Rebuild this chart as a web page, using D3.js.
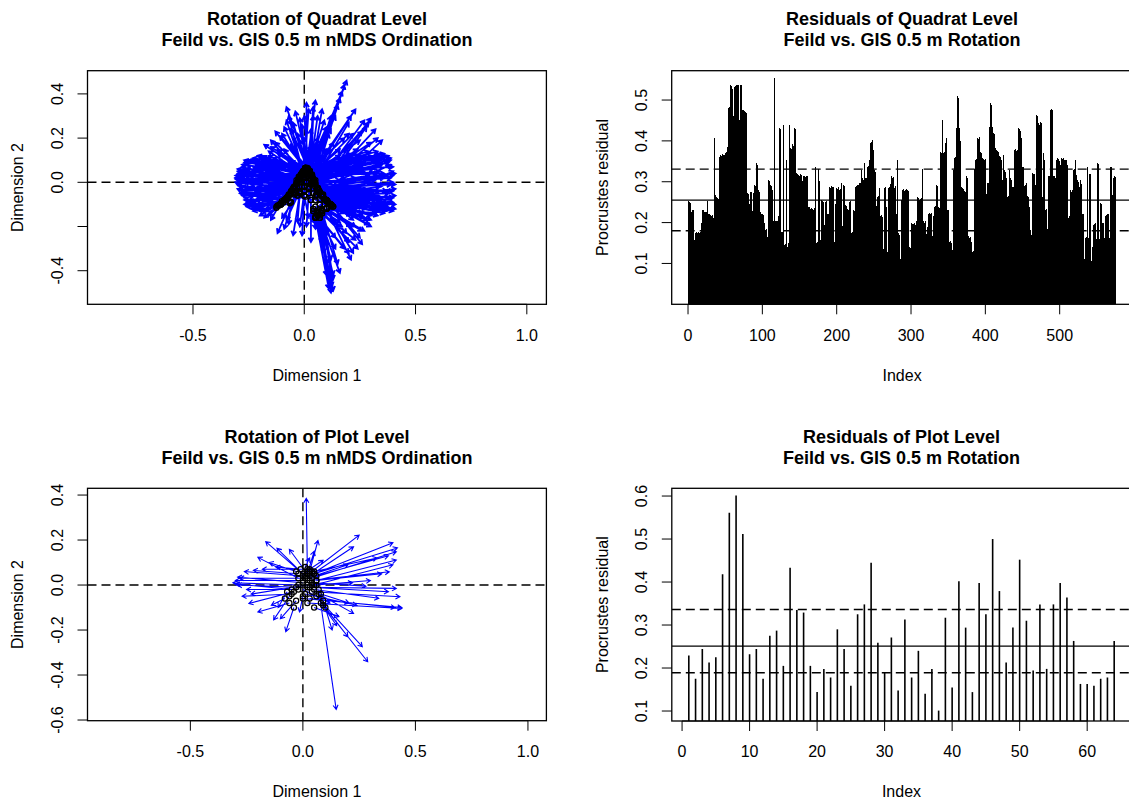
<!DOCTYPE html>
<html><head><meta charset="utf-8">
<script src="https://cdn.jsdelivr.net/npm/d3@7"></script>
<style>
html,body{margin:0;padding:0;background:#fff;}
svg{display:block;font-family:"Liberation Sans",Arial,sans-serif;}
</style></head>
<body>
<svg id="chart" width="1129" height="803"></svg>
<script>
// ---------------- DATA ----------------
const titlesTL = ["Rotation of Quadrat Level", "Feild vs. GIS 0.5 m nMDS Ordination"];
const titlesTR = ["Residuals of Quadrat Level", "Feild vs. GIS 0.5 m Rotation"];
const titlesBL = ["Rotation of Plot Level", "Feild vs. GIS 0.5 m nMDS Ordination"];
const titlesBR = ["Residuals of Plot Level", "Feild vs. GIS 0.5 m Rotation"];

const dimXTicks = [-0.5, 0.0, 0.5, 1.0];
const tlYTicks = [0.4, 0.2, 0.0, -0.2, -0.4];
const tlYLabelled = [0.4, 0.2, 0.0, -0.4];
const blYTicks = [0.4, 0.2, 0.0, -0.2, -0.4, -0.6];
const trXTicks = [0, 100, 200, 300, 400, 500];
const trYTicks = [0.1, 0.2, 0.3, 0.4, 0.5];
const brXTicks = [0, 10, 20, 30, 40, 50, 60];
const brYTicks = [0.1, 0.2, 0.3, 0.4, 0.5, 0.6];

// Procrustes residuals, quadrat level (index 1..575)
const quadratResiduals = [
0.253,0.25,0.248,0.227,0.225,0.23,0.232,0.228,0.157,0.174,0.176,0.172,0.175,0.178,0.174,0.172,0.176,0.2,0.23,0.228,0.232,0.226,0.225,0.222,0.226,
0.253,0.221,0.218,0.222,0.219,0.216,0.214,0.218,0.212,0.23,0.407,0.268,0.262,0.26,0.255,0.258,0.162,0.36,0.366,0.364,0.368,0.362,0.366,0.365,0.368,
0.37,0.372,0.386,0.39,0.48,0.482,0.537,0.535,0.53,0.528,0.46,0.533,0.53,0.534,0.537,0.535,0.538,0.536,0.451,0.46,0.537,0.538,0.476,0.475,0.474,
0.472,0.47,0.468,0.466,0.272,0.27,0.243,0.245,0.276,0.274,0.231,0.228,0.272,0.275,0.292,0.29,0.345,0.34,0.284,0.28,0.276,0.227,0.225,0.222,0.22,
0.218,0.203,0.2,0.182,0.185,0.162,0.165,0.304,0.302,0.296,0.293,0.29,0.28,0.278,0.203,0.205,0.554,0.203,0.205,0.2,0.204,0.215,0.431,0.428,0.18,
0.178,0.178,0.439,0.436,0.145,0.148,0.353,0.35,0.14,0.15,0.439,0.435,0.382,0.38,0.39,0.392,0.388,0.431,0.428,0.425,0.321,0.318,0.316,0.317,0.315,
0.318,0.316,0.305,0.303,0.313,0.311,0.314,0.312,0.31,0.313,0.313,0.239,0.237,0.235,0.234,0.236,0.233,0.231,0.232,0.235,0.149,0.335,0.15,0.152,0.33,
0.305,0.302,0.157,0.16,0.255,0.252,0.25,0.194,0.19,0.25,0.252,0.182,0.222,0.22,0.225,0.288,0.285,0.29,0.287,0.284,0.286,0.153,0.243,0.245,0.284,
0.282,0.286,0.283,0.28,0.282,0.296,0.19,0.192,0.292,0.29,0.288,0.243,0.24,0.231,0.233,0.23,0.25,0.252,0.248,0.174,0.176,0.23,0.232,0.228,0.288,
0.286,0.29,0.292,0.289,0.291,0.296,0.298,0.329,0.3,0.31,0.305,0.308,0.345,0.309,0.31,0.337,0.335,0.338,0.353,0.36,0.394,0.398,0.402,0.378,0.375,
0.329,0.325,0.239,0.24,0.263,0.265,0.284,0.282,0.215,0.218,0.214,0.133,0.135,0.284,0.286,0.235,0.238,0.125,0.128,0.284,0.286,0.292,0.295,0.313,0.31,
0.312,0.288,0.285,0.29,0.215,0.22,0.353,0.174,0.17,0.108,0.11,0.255,0.25,0.28,0.282,0.278,0.276,0.279,0.282,0.28,0.278,0.137,0.14,0.138,0.182,
0.198,0.196,0.195,0.197,0.2,0.194,0.198,0.203,0.263,0.26,0.255,0.255,0.258,0.26,0.255,0.33,0.203,0.2,0.205,0.17,0.172,0.19,0.192,0.222,0.224,
0.22,0.223,0.17,0.168,0.215,0.213,0.239,0.24,0.292,0.29,0.235,0.238,0.236,0.113,0.374,0.37,0.451,0.445,0.37,0.372,0.394,0.39,0.407,0.231,0.228,
0.23,0.153,0.155,0.15,0.129,0.132,0.329,0.33,0.357,0.36,0.431,0.435,0.509,0.505,0.431,0.398,0.4,0.288,0.285,0.28,0.282,0.278,0.275,0.272,0.313,
0.31,0.166,0.165,0.162,0.164,0.153,0.15,0.129,0.131,0.329,0.33,0.353,0.355,0.35,0.407,0.405,0.41,0.374,0.372,0.37,0.357,0.355,0.353,0.352,0.355,
0.268,0.27,0.296,0.298,0.431,0.435,0.492,0.488,0.435,0.423,0.42,0.418,0.382,0.38,0.378,0.375,0.376,0.372,0.362,0.36,0.356,0.353,0.305,0.308,0.366,
0.329,0.325,0.309,0.31,0.263,0.265,0.329,0.325,0.31,0.305,0.284,0.286,0.288,0.378,0.376,0.38,0.375,0.378,0.372,0.431,0.428,0.425,0.407,0.405,0.337,
0.335,0.288,0.29,0.292,0.296,0.268,0.265,0.262,0.239,0.235,0.182,0.17,0.172,0.321,0.318,0.32,0.292,0.29,0.464,0.46,0.37,0.443,0.44,0.447,0.445,
0.26,0.262,0.37,0.353,0.35,0.231,0.233,0.182,0.185,0.313,0.315,0.312,0.476,0.478,0.475,0.472,0.313,0.315,0.31,0.305,0.353,0.357,0.355,0.353,0.35,
0.341,0.34,0.357,0.355,0.357,0.354,0.35,0.353,0.352,0.341,0.34,0.211,0.215,0.28,0.278,0.276,0.279,0.285,0.329,0.332,0.353,0.316,0.312,0.305,0.3,
0.284,0.286,0.305,0.295,0.292,0.222,0.22,0.108,0.11,0.162,0.165,0.337,0.335,0.162,0.32,0.318,0.104,0.106,0.14,0.142,0.194,0.196,0.198,0.157,0.16,
0.345,0.343,0.157,0.16,0.247,0.245,0.162,0.198,0.2,0.162,0.165,0.215,0.218,0.222,0.22,0.198,0.162,0.165,0.337,0.335,0.268,0.27,0.31,0.313,0.312
];
const quadratQuartiles = [0.180, 0.255, 0.331];

// Procrustes residuals, plot level (index 1..64)
const plotResiduals = [
0.229,0.175,0.244,0.213,0.225,0.418,0.561,0.601,0.512,0.232,
0.244,0.175,0.275,0.287,0.205,0.433,0.335,0.329,0.205,0.144,
0.198,0.178,0.290,0.244,0.159,0.325,0.348,0.445,0.259,0.190,
0.271,0.148,0.313,0.178,0.240,0.140,0.198,0.101,0.317,0.155,
0.402,0.294,0.144,0.398,0.325,0.500,0.379,0.213,0.294,0.452,
0.310,0.194,0.348,0.198,0.348,0.398,0.364,0.263,0.163,0.163,
0.159,0.175,0.178,0.263
];
const plotQuartiles = [0.189, 0.251, 0.336];

// Quadrat-level rotation arrows: [rotated x, rotated y, target x, target y]
const quadratArrows = [
// left lobe
[-0.03,0.0,-0.30,0.02],[-0.02,0.02,-0.31,0.03],[-0.05,-0.03,-0.30,0.0],[-0.01,0.035,-0.29,0.05],
[-0.07,-0.06,-0.29,-0.02],[-0.035,0.01,-0.28,0.07],[0.0,0.055,-0.27,0.09],[-0.09,-0.08,-0.28,-0.05],
[-0.055,-0.035,-0.27,-0.07],[-0.11,-0.1,-0.25,-0.1],[-0.075,-0.065,-0.26,-0.09],[-0.04,-0.05,-0.29,-0.03],
[0.01,0.065,-0.25,0.1],[-0.025,0.025,-0.26,0.08],[-0.125,-0.115,-0.22,-0.12],[-0.095,-0.09,-0.24,-0.11],
[-0.065,-0.095,-0.2,-0.13],[-0.03,-0.005,-0.3,0.04],[-0.015,0.03,-0.29,0.01],[0.0,0.02,-0.28,0.0],
[-0.05,-0.025,-0.28,-0.04],[-0.02,-0.045,-0.27,-0.06],[0.0,-0.06,-0.25,-0.08],[-0.045,-0.055,-0.23,-0.1],
[-0.105,-0.095,-0.21,-0.11],[0.005,0.05,-0.22,0.1],[0.015,0.06,-0.2,0.11],[-0.01,0.04,-0.23,0.09],
[0.02,0.045,-0.18,0.11],[-0.02,0.015,-0.2,0.06],[-0.035,-0.005,-0.22,0.03],[-0.06,-0.04,-0.21,-0.02],
[-0.08,-0.07,-0.2,-0.06],[-0.1,-0.085,-0.19,-0.09],[0.0,-0.02,-0.24,-0.01],[0.01,0.0,-0.26,0.02],
[0.02,0.055,-0.26,0.06],[-0.005,0.025,-0.24,0.05],[-0.045,-0.045,-0.26,-0.05],[-0.065,-0.085,-0.24,-0.12],
[0.0,0.045,-0.16,0.12],[-0.01,0.03,-0.15,0.08],[0.02,-0.025,-0.18,-0.04],[0.01,0.005,-0.17,0.0],
[-0.025,-0.05,-0.16,-0.08],[-0.12,-0.105,-0.18,-0.13],[0.005,-0.065,-0.14,-0.1],[-0.03,0.005,-0.13,0.04],
[-0.07,-0.055,-0.15,-0.11],[0.03,0.03,-0.12,0.1],[-0.04,-0.02,-0.31,0.015],[-0.06,-0.05,-0.3,-0.01],
[-0.02,0.0,-0.285,0.035],[-0.085,-0.075,-0.27,-0.04],[-0.01,0.045,-0.28,0.08],[0.0,0.0,-0.3,0.05],
[-0.115,-0.105,-0.3,-0.03],[-0.095,-0.09,-0.31,0.0],[-0.085,-0.08,-0.29,0.06],[-0.065,-0.055,-0.3,0.03],
[-0.045,-0.02,-0.31,0.02],[-0.025,0.015,-0.3,0.06],[-0.015,0.035,-0.27,0.1],[-0.005,0.05,-0.24,0.1],
[-0.035,-0.005,-0.27,0.0],[-0.055,-0.04,-0.28,-0.06],[-0.075,-0.07,-0.27,-0.08],[-0.105,-0.1,-0.26,-0.11],
[-0.125,-0.11,-0.23,-0.13],[-0.085,-0.08,-0.22,-0.12],[-0.065,-0.055,-0.25,-0.06],[-0.045,-0.02,-0.26,-0.03],
[-0.025,0.015,-0.27,0.04],[-0.01,-0.02,-0.25,0.01],[-0.02,-0.04,-0.23,-0.05],[-0.03,-0.06,-0.22,-0.08],
[0.0,-0.04,-0.21,-0.04],[0.0,0.02,-0.23,0.07],[-0.015,0.035,-0.21,0.08],[0.005,0.065,-0.19,0.09],
[-0.055,-0.04,-0.24,-0.09],[-0.095,-0.09,-0.2,-0.1],[-0.105,-0.1,-0.17,-0.12],[-0.035,-0.005,-0.19,0.02],
[-0.045,-0.02,-0.18,-0.05],[-0.075,-0.07,-0.17,-0.08],[0.01,0.0,-0.2,0.04],[0.0,0.02,-0.17,0.05],
[-0.005,0.05,-0.14,0.11],[-0.025,0.015,-0.14,0.06],[-0.01,-0.02,-0.14,-0.03],[-0.02,-0.04,-0.12,-0.07],
[0.005,0.065,-0.21,0.12],[0.015,0.06,-0.23,0.11],[-0.115,-0.105,-0.27,-0.1],[-0.065,-0.055,-0.29,-0.05],
// upper-left rays
[0.01,0.06,-0.15,0.16],[0.0,0.05,-0.18,0.17],[-0.01,0.03,-0.15,0.19],[0.005,0.045,-0.13,0.18],
[0.015,0.065,-0.11,0.21],[0.02,0.05,-0.08,0.34],[0.0,0.02,-0.07,0.3],[0.01,0.06,-0.05,0.27],
[0.025,0.045,-0.04,0.32],[0.03,0.03,-0.06,0.24],[0.0,0.055,-0.09,0.25],[-0.015,0.03,-0.12,0.15],
[-0.02,0.02,-0.19,0.12],[0.01,0.06,-0.02,0.29],[0.005,0.05,-0.1,0.22],[0.02,0.05,-0.03,0.22],
[0.0,0.04,-0.08,0.28],[0.01,0.055,-0.13,0.23],[-0.005,0.035,-0.16,0.14],
[0.005,0.065,-0.12,0.13],[-0.005,0.05,-0.06,0.17],[-0.015,0.035,-0.09,0.15],[0.005,0.065,-0.02,0.19],
// top rays
[0.01,0.06,0.01,0.36],[0.02,0.05,0.0,0.3],[0.0,0.05,0.02,0.33],[0.03,0.03,0.04,0.3],
[0.01,0.065,0.05,0.37],[0.025,0.05,0.06,0.3],[0.03,0.035,0.08,0.33],[0.02,0.055,0.09,0.28],
[0.015,0.06,0.1,0.25],[0.035,0.03,0.12,0.3],[0.04,0.0,0.11,0.22],[0.02,0.045,0.03,0.24],
[0.0,0.02,0.0,0.2],[0.01,0.06,0.06,0.2],[0.02,0.04,0.04,0.34],[0.005,0.055,-0.01,0.26],
[0.015,0.06,0.03,0.17],[0.025,0.05,0.09,0.2],[0.015,0.06,0.12,0.24],
// upper-right rays
[0.03,0.03,0.19,0.46],[0.04,0.0,0.18,0.44],[0.02,0.05,0.17,0.41],[0.035,0.025,0.16,0.38],
[0.045,0.005,0.15,0.35],[0.02,0.055,0.14,0.3],[0.03,0.035,0.23,0.33],[0.04,0.0,0.2,0.27],
[0.06,-0.03,0.3,0.29],[0.045,-0.005,0.29,0.27],[0.055,-0.055,0.28,0.25],[0.065,-0.035,0.32,0.24],
[0.04,0.01,0.26,0.23],[0.03,0.03,0.22,0.22],[0.08,-0.06,0.35,0.19],[0.06,-0.025,0.33,0.2],
[0.04,0.005,0.3,0.18],[0.03,0.035,0.25,0.19],[0.02,0.05,0.18,0.2],[0.035,0.03,0.2,0.16],
[0.04,0.0,0.13,0.18],[0.02,0.05,0.1,0.15],[0.05,-0.02,0.27,0.28],[0.03,0.02,0.21,0.3],
[0.03,0.035,0.16,0.15],[0.04,0.015,0.24,0.15],[0.025,0.05,0.2,0.22],
// right lobe
[0.04,0.0,0.38,0.12],[0.06,-0.03,0.37,0.1],[0.08,-0.06,0.39,0.08],[0.1,-0.08,0.4,0.05],
[0.045,-0.005,0.39,0.02],[0.065,-0.035,0.4,0.0],[0.085,-0.065,0.41,-0.03],[0.105,-0.085,0.41,-0.06],
[0.12,-0.1,0.4,-0.09],[0.125,-0.105,0.39,-0.12],[0.1,-0.08,0.37,-0.13],[0.08,-0.06,0.36,-0.11],
[0.06,-0.03,0.38,-0.07],[0.04,0.0,0.37,-0.04],[0.03,0.03,0.36,0.04],[0.02,0.05,0.35,0.11],
[0.03,0.03,0.34,0.13],[0.04,0.0,0.33,0.07],[0.05,-0.06,0.34,-0.02],[0.07,-0.1,0.35,-0.09],
[0.12,-0.1,0.34,-0.13],[0.1,-0.12,0.32,-0.14],[0.085,-0.055,0.32,-0.1],[0.06,-0.03,0.31,-0.05],
[0.04,0.0,0.3,0.0],[0.03,0.03,0.31,0.06],[0.02,0.05,0.3,0.12],[0.035,0.035,0.28,0.1],
[0.045,0.005,0.27,0.05],[0.06,-0.025,0.28,-0.03],[0.08,-0.065,0.29,-0.08],[0.1,-0.08,0.28,-0.12],
[0.115,-0.1,0.26,-0.14],[0.1,-0.12,0.24,-0.15],[0.075,-0.06,0.25,-0.1],[0.055,-0.03,0.24,-0.05],
[0.04,-0.01,0.23,0.02],[0.03,0.025,0.24,0.08],[0.02,0.055,0.25,0.12],[0.015,0.05,0.21,0.13],
[0.03,0.035,0.2,0.09],[0.04,0.005,0.19,0.04],[0.06,-0.035,0.2,-0.02],[0.08,-0.055,0.21,-0.07],
[0.1,-0.085,0.2,-0.12],[0.12,-0.11,0.18,-0.14],[0.05,-0.065,0.17,-0.09],[0.04,0.0,0.16,0.01],
[0.03,0.03,0.15,0.07],[0.02,0.05,0.16,0.12],[0.04,0.005,0.35,0.08],[0.06,-0.03,0.36,-0.01],
[0.08,-0.06,0.38,-0.05],[0.1,-0.08,0.38,-0.1],[0.045,0.0,0.4,0.03],[0.03,0.03,0.39,0.1],
[0.06,-0.03,0.33,0.03],[0.08,-0.06,0.33,-0.06],[0.1,-0.08,0.35,-0.12],[0.04,0.0,0.26,0.09],
[0.05,0.01,0.41,-0.01],[0.07,-0.045,0.4,-0.07],[0.025,0.04,0.37,0.12],[0.09,-0.075,0.41,-0.1],
[0.03,0.035,0.39,0.11],[0.04,0.015,0.38,0.09],[0.05,-0.005,0.41,0.04],[0.06,-0.025,0.39,-0.01],
[0.07,-0.045,0.4,-0.04],[0.08,-0.06,0.39,-0.08],[0.09,-0.075,0.38,-0.12],[0.1,-0.085,0.36,-0.14],
[0.11,-0.095,0.33,-0.15],[0.12,-0.105,0.3,-0.15],[0.13,-0.11,0.27,-0.16],[0.025,0.05,0.36,0.13],
[0.015,0.06,0.33,0.14],[0.005,0.065,0.29,0.14],[0.03,0.035,0.32,0.11],[0.04,0.015,0.34,0.05],
[0.05,-0.005,0.36,0.02],[0.06,-0.025,0.34,-0.04],[0.07,-0.045,0.37,-0.09],[0.08,-0.06,0.31,-0.12],
[0.09,-0.075,0.3,-0.08],[0.1,-0.085,0.27,-0.1],[0.11,-0.095,0.23,-0.12],[0.12,-0.105,0.21,-0.15],
[0.03,-0.01,0.29,0.03],[0.02,-0.03,0.27,-0.01],[0.04,-0.05,0.26,-0.06],[0.05,-0.08,0.27,-0.09],
[0.01,0.0,0.26,0.07],[0.0,0.02,0.27,0.12],[0.025,0.05,0.23,0.11],[0.015,0.06,0.19,0.12],
[0.03,-0.01,0.22,0.05],[0.02,-0.03,0.22,-0.04],[0.04,-0.05,0.19,-0.09],[0.05,-0.08,0.16,-0.12],
[0.01,0.0,0.18,0.08],[0.0,-0.04,0.17,-0.05],[0.03,0.035,0.14,0.1],[0.04,0.015,0.13,0.04],
[0.06,-0.025,0.14,-0.06],[0.07,-0.045,0.12,-0.1],[0.005,0.065,0.36,0.12],[0.025,0.05,0.4,0.07],
[0.07,-0.045,0.41,-0.12],[0.09,-0.075,0.4,-0.13],[0.06,-0.025,0.32,0.01],[0.08,-0.06,0.35,-0.07],
[0.1,-0.085,0.33,-0.1],[0.12,-0.105,0.37,-0.11],
// lower-right rays
[0.06,-0.14,0.12,-0.5],[0.08,-0.13,0.13,-0.49],[0.05,-0.16,0.11,-0.48],[0.065,-0.145,0.12,-0.46],
[0.08,-0.125,0.13,-0.44],[0.05,-0.155,0.1,-0.42],[0.06,-0.14,0.11,-0.4],[0.07,-0.1,0.1,-0.37],
[0.06,-0.135,0.16,-0.41],[0.08,-0.13,0.15,-0.37],[0.1,-0.12,0.21,-0.35],[0.1,-0.115,0.22,-0.32],
[0.12,-0.1,0.26,-0.28],[0.1,-0.08,0.25,-0.25],[0.12,-0.1,0.29,-0.19],[0.1,-0.12,0.27,-0.22],
[0.08,-0.13,0.2,-0.27],[0.07,-0.1,0.19,-0.23],[0.1,-0.12,0.23,-0.2],[0.08,-0.06,0.22,-0.17],
[0.06,-0.14,0.14,-0.3],[0.05,-0.16,0.09,-0.32],[0.04,-0.12,0.08,-0.27],[0.05,-0.16,0.07,-0.22],
[0.12,-0.1,0.3,-0.17],[0.06,-0.14,0.17,-0.2],[0.07,-0.15,0.115,-0.45],[0.055,-0.13,0.125,-0.47],
[0.04,-0.13,0.14,-0.25],[0.06,-0.15,0.18,-0.3],[0.08,-0.14,0.23,-0.26],[0.07,-0.16,0.12,-0.35],
[0.09,-0.12,0.26,-0.22],[0.05,-0.11,0.16,-0.18],[0.04,-0.13,0.1,-0.25],[0.06,-0.15,0.2,-0.32],
[0.08,-0.14,0.24,-0.3],[0.07,-0.16,0.13,-0.42],[0.09,-0.12,0.21,-0.2],[0.05,-0.11,0.06,-0.18],
[0.11,-0.095,0.3,-0.2],[0.13,-0.11,0.28,-0.17],[0.02,-0.03,0.04,-0.18],
// lower-left rays
[0.03,-0.08,0.03,-0.27],[0.0,-0.06,-0.01,-0.24],[-0.02,-0.05,-0.05,-0.24],[-0.06,-0.09,-0.12,-0.23],
[-0.04,-0.05,-0.09,-0.21],[-0.09,-0.08,-0.18,-0.16],[-0.11,-0.1,-0.15,-0.17],[0.02,-0.05,0.01,-0.2],
[-0.06,-0.09,-0.07,-0.19],[0.04,-0.12,0.05,-0.21],[-0.02,-0.05,-0.03,-0.18],[0.0,-0.06,0.02,-0.16],
[-0.03,-0.06,-0.1,-0.16],[-0.02,-0.04,-0.08,-0.17],[0.0,-0.04,-0.02,-0.2],[-0.085,-0.08,-0.2,-0.15],
[-0.105,-0.1,-0.16,-0.15],
// interior
[0.01,0.0,0.05,0.08],[0.0,-0.02,-0.06,0.05],[0.02,-0.02,0.1,0.02],[-0.02,0.02,-0.08,-0.02],
[0.01,0.06,0.07,0.12],[0.0,0.05,-0.06,0.1],[0.03,-0.08,0.12,-0.05],[-0.04,-0.05,-0.1,0.0],
[0.02,-0.05,0.08,0.0],[0.0,-0.02,0.0,0.1]
];

// Plot-level rotation arrows: [rotated x, rotated y, target x, target y]
const plotArrows = [
[0.02,0.06,0.015,0.385],[0.0,0.05,-0.165,0.193],[0.01,0.04,-0.115,0.163],[0.02,0.05,-0.06,0.158],
[-0.02,0.03,-0.2,0.123],[0.03,0.06,0.067,0.198],[0.02,0.05,0.05,0.15],[0.04,0.06,0.25,0.222],
[0.03,0.04,0.225,0.17],[0.05,0.05,0.40,0.188],[0.04,0.03,0.415,0.148],[0.06,0.02,0.415,0.111],
[0.05,0.0,0.40,0.09],[0.03,0.02,0.384,0.059],[0.06,0.04,0.38,0.13],[0.02,-0.01,0.415,-0.015],
[0.04,-0.03,0.431,-0.052],[0.02,-0.08,0.44,-0.104],[0.0,-0.06,0.44,-0.10],[0.05,-0.02,0.337,-0.059],
[0.07,-0.04,0.225,-0.126],[0.06,-0.05,0.264,-0.274],[0.09,-0.09,0.288,-0.341],[0.07,-0.02,0.148,-0.553],
[0.08,-0.08,0.15,-0.18],[0.1,-0.1,0.2,-0.23],[0.09,-0.07,0.13,-0.2],[0.08,-0.04,0.205,-0.08],
[-0.02,0.0,-0.311,0.01],[0.0,0.02,-0.30,0.02],[-0.03,-0.01,-0.29,0.0],[0.01,0.03,-0.28,0.03],
[-0.05,-0.02,-0.3,0.005],[0.0,0.04,-0.26,0.06],[-0.02,0.05,-0.22,0.065],[0.02,0.07,-0.18,0.07],
[-0.04,-0.03,-0.24,-0.082],[-0.06,-0.05,-0.13,-0.155],[-0.03,-0.07,-0.1,-0.15],[-0.05,-0.04,-0.27,-0.05],
[-0.02,-0.02,-0.25,-0.02],[-0.06,-0.08,-0.2,-0.12],[-0.04,-0.1,-0.076,-0.207],[0.0,-0.05,-0.015,-0.12],
[0.02,0.0,-0.23,-0.04],[0.03,0.07,0.09,0.11],[0.06,0.0,0.3,0.02],[0.04,0.01,0.28,-0.005],
[0.02,0.03,0.2,0.09],[0.05,0.06,0.33,0.12],[0.01,-0.04,0.24,-0.09],[0.03,-0.06,0.41,-0.1],
[-0.08,-0.06,-0.14,-0.09],[-0.01,0.07,-0.12,0.08],[0.0,-0.02,0.12,-0.08],[0.05,-0.1,0.16,-0.14],
[-0.03,0.06,-0.15,0.1],[0.01,0.08,0.03,0.12],[-0.07,-0.03,-0.11,-0.1],[0.04,0.0,0.22,0.01],
[0.06,0.02,0.35,0.05],[0.03,-0.01,0.38,-0.03],[0.0,0.01,-0.29,0.035],[0.05,0.05,0.42,0.165]
];

// ---------------- DRAWING ----------------
const svg = d3.select("#chart");
svg.append("rect").attr("width",1129).attr("height",803).attr("fill","#fff");
const FONT = 16, TFONT = 18;
const fmt1 = v => v.toFixed(1);
const fmt0 = v => String(v);

let clipId = 0;
function panel(opt) {
  const g = svg.append("g");
  const [x0,x1] = opt.x.range(), [y1,y0] = opt.y.range();
  const id = "clip" + (clipId++);
  svg.append("clipPath").attr("id", id).append("rect")
    .attr("x", x0).attr("y", y0).attr("width", x1-x0).attr("height", y1-y0);
  const plot = g.append("g").attr("clip-path", `url(#${id})`);
  const cx = (x0+x1)/2;
  opt.titles.forEach((t,i) => {
    g.append("text").attr("x", cx).attr("y", y0 - 45.7 + i*21)
      .attr("text-anchor","middle").attr("font-size",TFONT).attr("font-weight","bold").text(t);
  });
  opt.xTicks.forEach(v => {
    const px = opt.x(v);
    g.append("line").attr("x1",px).attr("x2",px).attr("y1",y1).attr("y2",y1+10)
      .attr("stroke","#000").attr("stroke-width",1);
    g.append("text").attr("x",px).attr("y",y1+36.4).attr("text-anchor","middle")
      .attr("font-size",FONT).text(opt.xFmt(v));
  });
  g.append("line").attr("x1",opt.x(opt.xTicks[0])).attr("x2",opt.x(opt.xTicks[opt.xTicks.length-1]))
    .attr("y1",y1).attr("y2",y1).attr("stroke","#000");
  g.append("text").attr("x",cx).attr("y",y1+76.4).attr("text-anchor","middle")
    .attr("font-size",FONT).text(opt.xLab);
  opt.yTicks.forEach(v => {
    const py = opt.y(v);
    g.append("line").attr("x1",x0-10).attr("x2",x0).attr("y1",py).attr("y2",py)
      .attr("stroke","#000").attr("stroke-width",1);
    if (!opt.yLabelled || opt.yLabelled.includes(v)) {
      g.append("text").attr("transform",`translate(${x0-24.8},${py}) rotate(-90)`)
        .attr("text-anchor","middle").attr("font-size",FONT).text(opt.yFmt(v));
    }
  });
  g.append("text").attr("transform",`translate(${x0-64.2},${(y0+y1)/2}) rotate(-90)`)
    .attr("text-anchor","middle").attr("font-size",FONT).text(opt.yLab);
  return {g, plot, x0, x1, y0, y1};
}
function box(p) {
  p.g.append("rect").attr("x",p.x0).attr("y",p.y0).attr("width",p.x1-p.x0).attr("height",p.y1-p.y0)
    .attr("fill","none").attr("stroke","#000").attr("stroke-width",1.3);
}
function arrows(p, data, x, y, sw) {
  const L = 5, ang = Math.PI/6;
  let d = "";
  data.forEach(([tx,ty,hx,hy]) => {
    const ax = x(tx), ay = y(ty), bx = x(hx), by = y(hy);
    const a = Math.atan2(by-ay, bx-ax);
    d += `M${ax},${ay}L${bx},${by}M${bx-L*Math.cos(a-ang)},${by-L*Math.sin(a-ang)}L${bx},${by}L${bx-L*Math.cos(a+ang)},${by-L*Math.sin(a+ang)}`;
  });
  p.plot.append("path").attr("d", d).attr("fill","none").attr("stroke","#0000ff").attr("stroke-width",sw);
  p.plot.selectAll(null).data(data).enter().append("circle")
    .attr("cx", r => x(r[0])).attr("cy", r => y(r[1])).attr("r", 2.6)
    .attr("fill","none").attr("stroke","#000").attr("stroke-width",1.2);
}
function refLines(p, x, y) {
  p.plot.append("line").attr("x1",p.x0).attr("x2",p.x1).attr("y1",y(0)).attr("y2",y(0))
    .attr("stroke","#000").attr("stroke-width",1.4).attr("stroke-dasharray","9,5");
  p.plot.append("line").attr("x1",x(0)).attr("x2",x(0)).attr("y1",p.y0).attr("y2",p.y1)
    .attr("stroke","#000").attr("stroke-width",1.4).attr("stroke-dasharray","9,5");
}
function bars(p, data, x, y, w, crisp) {
  p.plot.selectAll(null).data(data).enter().append("line")
    .attr("x1",(d,i)=>x(i+1)).attr("x2",(d,i)=>x(i+1))
    .attr("y1",y(0)).attr("y2",d=>y(d))
    .attr("stroke","#000").attr("stroke-width",w)
    .attr("shape-rendering", crisp ? "crispEdges" : null);
}
function quartiles(p, q, y) {
  q.forEach((v,i) => {
    p.plot.append("line").attr("x1",p.x0).attr("x2",p.x1).attr("y1",y(v)).attr("y2",y(v))
      .attr("stroke","#000").attr("stroke-width",1.4).attr("stroke-dasharray", i===1 ? null : "9,5");
  });
}

// Top-left
{
  const x = d3.scaleLinear().domain([-0.974, 1.088]).range([87.5, 546.4]);
  const y = d3.scaleLinear().domain([-0.552, 0.505]).range([304.3, 70.7]);
  const p = panel({x, y, titles: titlesTL, xTicks: dimXTicks, xFmt: fmt1, xLab: "Dimension 1",
    yTicks: tlYTicks, yLabelled: tlYLabelled, yFmt: fmt1, yLab: "Dimension 2"});
  refLines(p, x, y);
  arrows(p, quadratArrows, x, y, 1.8);
  box(p);
}
// Bottom-left
{
  const x = d3.scaleLinear().domain([-0.957, 1.082]).range([87.5, 546.4]);
  const y = d3.scaleLinear().domain([-0.603, 0.430]).range([720.7, 488.3]);
  const p = panel({x, y, titles: titlesBL, xTicks: dimXTicks, xFmt: fmt1, xLab: "Dimension 1",
    yTicks: blYTicks, yFmt: fmt1, yLab: "Dimension 2"});
  refLines(p, x, y);
  arrows(p, plotArrows, x, y, 1.1);
  box(p);
}
// Top-right
{
  const x = d3.scaleLinear().domain([-21.96, 597.96]).range([671.7, 1132.5]);
  const y = d3.scaleLinear().domain([0.0, 0.5718]).range([304.3, 70.7]);
  const p = panel({x, y, titles: titlesTR, xTicks: trXTicks, xFmt: fmt0, xLab: "Index",
    yTicks: trYTicks, yFmt: fmt1, yLab: "Procrustes residual"});
  bars(p, quadratResiduals, x, y, 1, true);
  quartiles(p, quadratQuartiles, y);
  box(p);
}
// Bottom-right
{
  const x = d3.scaleLinear().domain([-1.52, 66.52]).range([671.8, 1131.2]);
  const y = d3.scaleLinear().domain([0.0768, 0.618]).range([721, 488.3]);
  const p = panel({x, y, titles: titlesBR, xTicks: brXTicks, xFmt: fmt0, xLab: "Index",
    yTicks: brYTicks, yFmt: fmt1, yLab: "Procrustes residual"});
  bars(p, plotResiduals, x, y, 1.6, false);
  quartiles(p, plotQuartiles, y);
  box(p);
}
</script>
</body></html>
